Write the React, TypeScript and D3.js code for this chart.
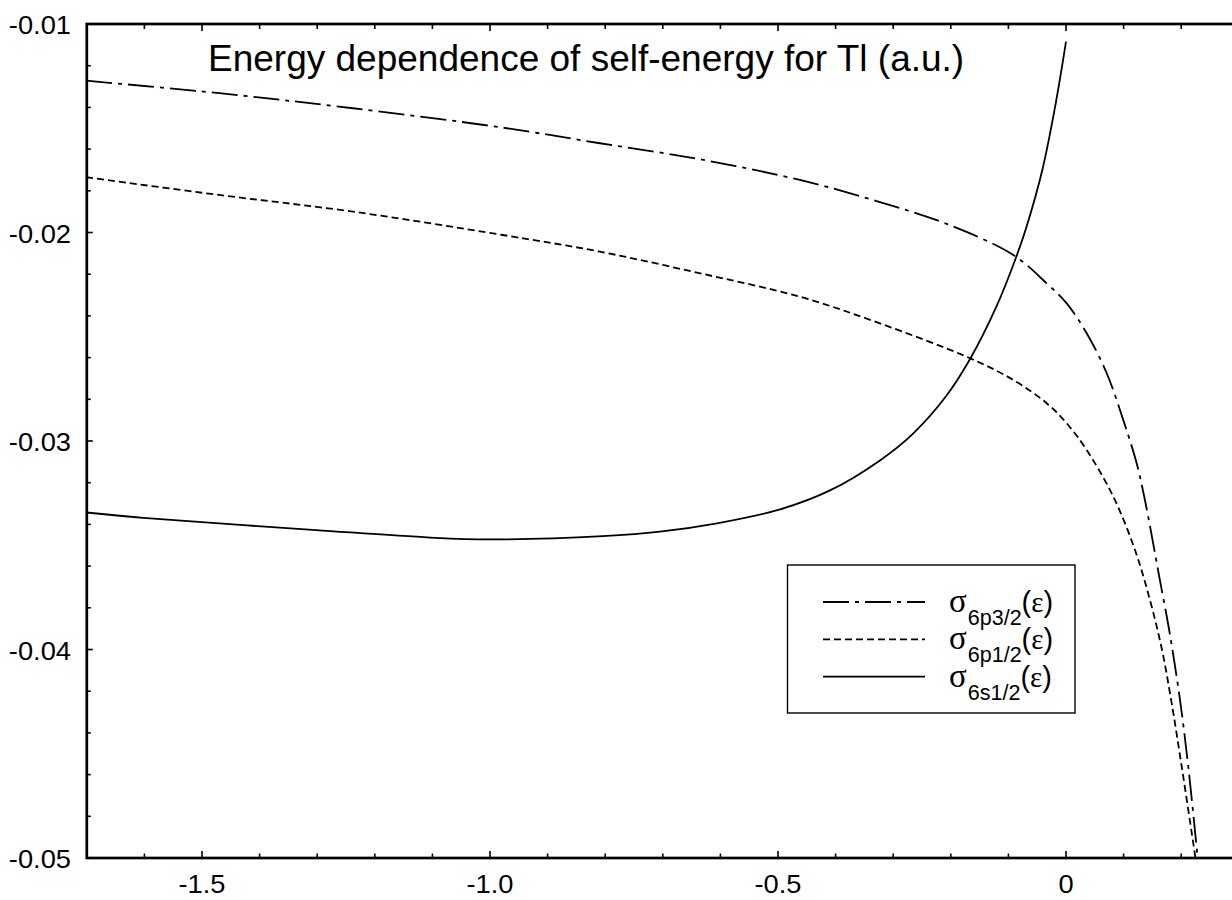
import * as d3 from "d3";
import React, { useRef, useEffect } from "react";

// values (energy in a.u., self-energy in a.u.)
const p32X = [-1.701, -1.47, -1.238, -0.978, -0.809, -0.635, -0.462, -0.323, -0.207, -0.0915, -0.0335, 0.0012, 0.0359, 0.0707, 0.0995, 0.1227, 0.137, 0.163, 0.1806, 0.1979, 0.2123, 0.2286];
const p32Y = [-0.01272, -0.01332, -0.01404, -0.01497, -0.01572, -0.01649, -0.01748, -0.01854, -0.01959, -0.02108, -0.02244, -0.0234, -0.02483, -0.02675, -0.029, -0.03107, -0.03283, -0.03667, -0.0393, -0.04242, -0.04562, -0.05];

const p12X = [-1.701, -1.47, -1.238, -0.978, -0.809, -0.635, -0.462, -0.323, -0.1667, -0.0915, -0.0335, 0.0012, 0.0359, 0.0821, 0.1198, 0.1458, 0.1667, 0.1835, 0.2009, 0.2248];
const p12Y = [-0.01735, -0.0182, -0.019, -0.02012, -0.02092, -0.02196, -0.02308, -0.02436, -0.02603, -0.02707, -0.02819, -0.02915, -0.03043, -0.03267, -0.03523, -0.03763, -0.04002, -0.04258, -0.04562, -0.05];

const s12X = [-1.701, -1.602, -1.302, -1.104, -1.003, -0.804, -0.705, -0.606, -0.4965, -0.4097, -0.323, -0.265, -0.209, -0.1658, -0.1209, -0.0869, -0.0685, -0.0411, -0.0178, 0.0];
const s12Y = [-0.03343, -0.03369, -0.03427, -0.03463, -0.03472, -0.03456, -0.03435, -0.03395, -0.03328, -0.03237, -0.03093, -0.02963, -0.02788, -0.02603, -0.02356, -0.02121, -0.01972, -0.017, -0.0138, -0.01085];

const xTicks = [-1.5, -1.0, -0.5, 0];
const xTickLabels = ["-1.5", "-1.0", "-0.5", "0"];
const yTicks = [-0.01, -0.02, -0.03, -0.04, -0.05];
const yTickLabels = ["-0.01", "-0.02", "-0.03", "-0.04", "-0.05"];

const legendSubs = ["6p3/2", "6p1/2", "6s1/2"];
const seriesDash = ["26,6,4,6", "7,4", null];

const TITLE = "Energy dependence of self-energy for Tl (a.u.)";

const W = 1232;
const H = 900;

export default function App() {
  const svgRef = useRef(null);

  useEffect(() => {
    const svg = d3.select(svgRef.current);
    svg.selectAll("*").remove();

    const x = d3.scaleLinear().domain([-1.7, 0.3]).range([86.8, 1238.8]);
    const y = d3.scaleLinear().domain([-0.05, -0.01]).range([858, 24]);
    const font = "'Liberation Sans', Arial, sans-serif";

    svg.append("defs").append("clipPath").attr("id", "plot")
      .append("rect").attr("x", x(-1.7)).attr("y", y(-0.01))
      .attr("width", x(0.3) - x(-1.7)).attr("height", y(-0.05) - y(-0.01));

    // curves
    const series = [
      [p32X, p32Y],
      [p12X, p12Y],
      [s12X, s12Y],
    ];
    const line = d3.line().x((d) => x(d[0])).y((d) => y(d[1])).curve(d3.curveCatmullRom.alpha(0.5));
    const g = svg.append("g").attr("clip-path", "url(#plot)");
    series.forEach(([xs, ys], i) => {
      const pts = xs.map((v, j) => [v, ys[j]]);
      g.append("path").datum(pts)
        .attr("fill", "none").attr("stroke", "#000").attr("stroke-width", 1.8)
        .attr("stroke-dasharray", seriesDash[i])
        .attr("d", line);
    });

    // frame
    svg.append("rect")
      .attr("x", x(-1.7)).attr("y", y(-0.01))
      .attr("width", x(0.3) - x(-1.7)).attr("height", y(-0.05) - y(-0.01))
      .attr("fill", "none").attr("stroke", "#000").attr("stroke-width", 2.7);

    // x ticks, minor every 0.1, inward on bottom and top
    d3.range(-16, 3).map((k) => k / 10).forEach((v) => {
      const major = xTicks.some((t) => Math.abs(t - v) < 1e-9);
      svg.append("line").attr("x1", x(v)).attr("x2", x(v))
        .attr("y1", y(-0.05)).attr("y2", y(-0.05) - (major ? 7 : 4.5))
        .attr("stroke", "#000").attr("stroke-width", 1.6);
      svg.append("line").attr("x1", x(v)).attr("x2", x(v))
        .attr("y1", y(-0.01)).attr("y2", y(-0.01) + (major ? 7 : 5))
        .attr("stroke", "#000").attr("stroke-width", 1.6);
    });
    xTicks.forEach((v, i) => {
      svg.append("text")
        .attr("transform", `translate(${x(v)},${y(-0.05) + 35}) scale(1.07,1)`)
        .attr("text-anchor", "middle").attr("font-family", font).attr("font-size", 25.5)
        .text(xTickLabels[i]);
    });

    // y ticks, minor every 0.002
    d3.range(5, 26).forEach((k) => {
      const v = -k / 500;
      const major = k % 5 === 0;
      svg.append("line").attr("x1", x(-1.7)).attr("x2", x(-1.7) + (major ? 6 : 4))
        .attr("y1", y(v)).attr("y2", y(v))
        .attr("stroke", "#000").attr("stroke-width", 1.6);
    });
    yTicks.forEach((v, i) => {
      svg.append("text")
        .attr("transform", `translate(71,${y(v) + 10}) scale(1.07,1)`)
        .attr("text-anchor", "end").attr("font-family", font).attr("font-size", 25.5)
        .text(yTickLabels[i]);
    });

    // title
    svg.append("text").attr("x", 208).attr("y", 71)
      .attr("font-family", font).attr("font-size", 37).text(TITLE);

    // legend
    const lg = svg.append("g");
    lg.append("rect").attr("x", 787.5).attr("y", 565).attr("width", 287.5).attr("height", 148)
      .attr("fill", "#fff").attr("stroke", "#000").attr("stroke-width", 1.4);
    legendSubs.forEach((sub, i) => {
      const yy = 602 + i * 37.3;
      lg.append("line").attr("x1", 823).attr("x2", 925).attr("y1", yy).attr("y2", yy)
        .attr("stroke", "#000").attr("stroke-width", 1.8)
        .attr("stroke-dasharray", seriesDash[i]);
      const t = lg.append("text").attr("x", 949).attr("y", yy + 10)
        .attr("font-family", font).attr("font-size", 29);
      t.append("tspan").attr("font-family", "'Liberation Serif', serif").attr("font-size", 33).text("σ");
      t.append("tspan").attr("dy", 13).attr("font-size", 21.5).attr("dx", 1).text(sub);
      t.append("tspan").attr("dy", -13).text("(");
      t.append("tspan").attr("font-family", "'Liberation Serif', serif").text("ε");
      t.append("tspan").text(")");
    });
  }, []);

  return (
    <svg
      ref={svgRef}
      width={W}
      height={H}
      viewBox={`0 0 ${W} ${H}`}
      style={{ position: "absolute", left: 0, top: 0, background: "#fff", display: "block" }}
    />
  );
}
